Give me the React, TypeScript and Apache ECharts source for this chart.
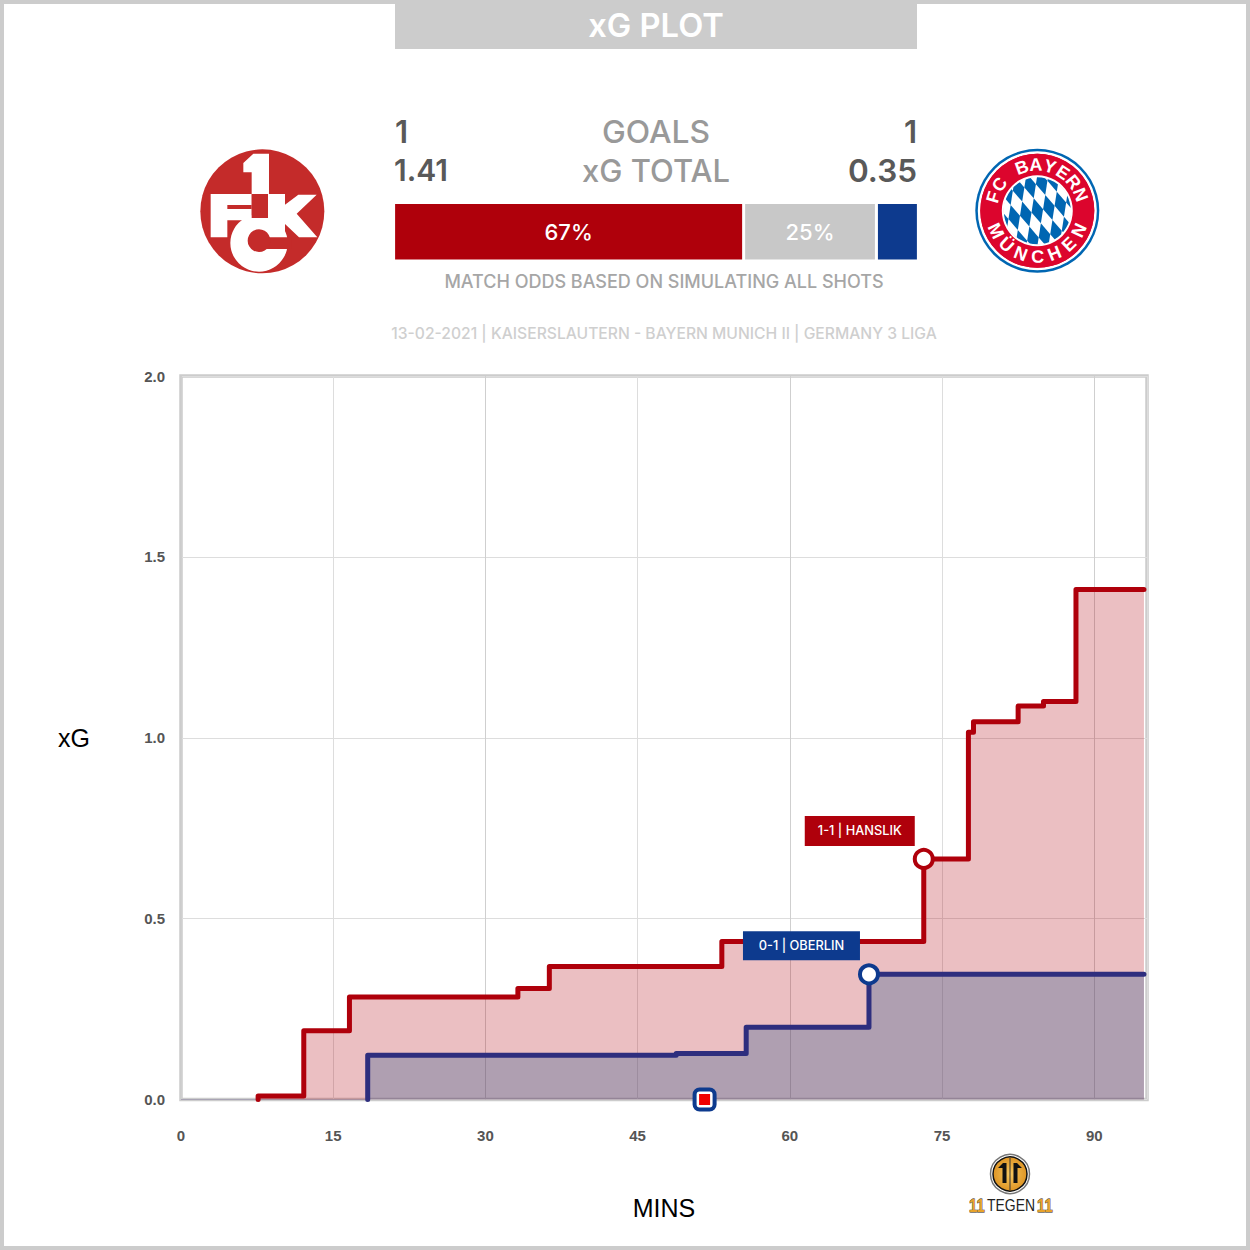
import React, { useEffect, useRef } from "react";
import * as echarts from "echarts";

const tickInterval = 15;
const redSteps = [[7.6,0],[7.6,0.01],[12.1,0.19],[16.6,0.283],[33.2,0.307],[36.3,0.368],[53.3,0.437],[73.2,0.665],[77.6,1.015],[78.1,1.044],[82.5,1.088],[85,1.10],[88.2,1.41],[94.9,1.41]];
const blueSteps = [[18.4,0],[18.4,0.122],[48.8,0.127],[55.7,0.2],[67.8,0.346],[94.9,0.346]];
const baseline = [[0,0],[18.4,0]];
const redGoal = [73.2, 0.665];
const blueGoal = [67.8, 0.346];
const redCard = [51.6, 0];
const odds = [66.7, 25.3, 8];
const oddsLabels = ["67%", "25%", ""];

const UI = "Inter, 'Open Sans', sans-serif";
const RED = "#AF000B";
const BLUE = "#0D3A8E";
const NAVY = "#2E2E7E";

function textEl(text: string, x: number, y: number, size: number, fill: string, align = "center", weight: any = 500, family = UI) {
  return { type: "text", x, y, z: 20, style: { text, fill, font: `${weight} ${size}px ${family}`, textAlign: align, textVerticalAlign: "middle" } };
}

function crestFck() {
  const k = 1 / 3, ox = 195, oy = 143;
  const C = "#C42B2A", W = "#fff";
  const P = (x: number, y: number) => [ox + x * k, oy + y * k];
  const rect = (x0: number, y0: number, x1: number, y1: number, fill: string, z = 13) => ({
    type: "rect", z,
    shape: { x: ox + x0 * k, y: oy + y0 * k, width: (x1 - x0) * k, height: (y1 - y0) * k },
    style: { fill },
  });
  const poly = (pts: number[][], fill: string, z = 12) => ({ type: "polygon", z, shape: { points: pts.map(([x, y]) => P(x, y)) }, style: { fill } });
  const circ = (x: number, y: number, r: number, fill: string, z: number) => ({ type: "circle", z, shape: { cx: ox + x * k, cy: oy + y * k, r: r * k }, style: { fill } });
  return [
    circ(202, 205, 186, C, 10),
    poly([[175, 32], [222, 32], [222, 153], [170, 153], [170, 88], [145, 88], [145, 60]], W),
    poly([[47, 153], [170, 153], [170, 232], [97, 232], [97, 283], [47, 283]], W),
    rect(170, 153, 270, 283, W, 12),
    poly([[270, 185], [310, 155], [365, 155], [305, 212], [367, 283], [312, 283], [270, 243]], W),
    circ(192, 300, 86, W, 12),
    rect(192, 283, 290, 318, C),
    circ(192, 293, 34, C, 13),
    rect(170, 153, 219, 225, C),
    rect(97, 186, 170, 198, C),
  ];
}

function crestBayern() {
  const cx = 1037.3, cy = 210.8;
  const els: any[] = [
    { type: "circle", z: 10, shape: { cx, cy, r: 62 }, style: { fill: "#0066B2" } },
    { type: "circle", z: 11, shape: { cx, cy, r: 59.5 }, style: { fill: "#fff" } },
    { type: "circle", z: 11, shape: { cx, cy, r: 57 }, style: { fill: "#DC052D" } },
    { type: "circle", z: 12, shape: { cx, cy, r: 35 }, style: { fill: "#fff" } },
  ];
  const W = 12, H = 26, t = (-16 * Math.PI) / 180;
  const rot = (x: number, y: number) => [cx + x * Math.cos(t) - y * Math.sin(t), cy + x * Math.sin(t) + y * Math.cos(t)];
  for (let i = -5; i <= 5; i++) {
    for (let j = -3; j <= 3; j++) {
      const dx = i * W, dy = j * H;
      if (Math.hypot(dx, dy) > 44) continue;
      els.push({
        type: "polygon", z: 13,
        shape: { points: [rot(dx, dy - H / 2), rot(dx + W / 2, dy), rot(dx, dy + H / 2), rot(dx - W / 2, dy)] },
        style: { fill: "#0066B2" },
      });
    }
  }
  els.push({ type: "ring", z: 14, shape: { cx, cy, r0: 34, r: 57 }, style: { fill: "#DC052D" } });
  els.push({ type: "ring", z: 14, shape: { cx, cy, r0: 33.5, r: 35.5 }, style: { fill: "#fff" } });
  const arcText = (s: string, start: number, step: number, radius: number, up: boolean) => {
    Array.from(s).forEach((ch, i) => {
      const deg = start + step * i;
      const a = (deg * Math.PI) / 180;
      els.push({
        type: "text", z: 15,
        x: cx + radius * Math.sin(a), y: cy - radius * Math.cos(a),
        rotation: up ? -a : Math.PI - a,
        style: { text: ch, fill: "#fff", font: "700 18px 'Liberation Sans', Arial", textAlign: "center", textVerticalAlign: "middle" },
      });
    });
  };
  arcText("FC BAYERN", -73, 17.8, 46, true);
  arcText("MÜNCHEN", 244, -21.5, 46, false);
  return els;
}

function logo11() {
  const cx = 1010, cy = 1174;
  const narrow = "'Liberation Sans', Arial";
  return [
    { type: "circle", z: 10, shape: { cx, cy, r: 19.5 }, style: { fill: "#fff", stroke: "#777", lineWidth: 1.5 } },
    { type: "circle", z: 11, shape: { cx, cy, r: 17 },
      style: { fill: new echarts.graphic.RadialGradient(0.5, 0.5, 0.6, [{ offset: 0, color: "#F7C860" }, { offset: 1, color: "#D98A18" }]), stroke: "#111", lineWidth: 1.5 } },
    { type: "polygon", z: 12, shape: { points: [[cx - 12, cy - 6], [cx - 7, cy - 11], [cx - 3.5, cy - 11], [cx - 3.5, cy + 9], [cx - 7.5, cy + 9], [cx - 7.5, cy - 6]] }, style: { fill: "#111" } },
    { type: "polygon", z: 12, shape: { points: [[cx + 12, cy - 6], [cx + 7, cy - 11], [cx + 3.5, cy - 11], [cx + 3.5, cy + 9], [cx + 7.5, cy + 9], [cx + 7.5, cy - 6]] }, style: { fill: "#111" } },
    { type: "rect", z: 12, shape: { x: cx - 0.5, y: cy - 16, width: 1, height: 32 }, style: { fill: "#333" } },
    { type: "text", z: 12, x: 969, y: 1205, scaleX: 0.82, style: { text: "11", fill: "#E8A32B", stroke: "#222", lineWidth: 0.8, font: `700 18px ${narrow}`, textVerticalAlign: "middle" } },
    { type: "text", z: 12, x: 987, y: 1205, scaleX: 0.82, style: { text: "TEGEN", fill: "#222", font: `400 17px ${narrow}`, textVerticalAlign: "middle" } },
    { type: "text", z: 12, x: 1037, y: 1205, scaleX: 0.82, style: { text: "11", fill: "#E8A32B", stroke: "#222", lineWidth: 0.8, font: `700 18px ${narrow}`, textVerticalAlign: "middle" } },
  ];
}

export default function App() {
  const ref = useRef<HTMLDivElement>(null);
  useEffect(() => {
    if (!ref.current) return;
    const chart = echarts.init(ref.current, undefined, { renderer: "svg" });
    const axisText = { color: "#555", fontWeight: "bold" as const, fontSize: 15, fontFamily: "'Liberation Sans', Arial" };
    const stepSeries = (name: string, data: number[][], color: string, area: string, z: number) => ({
      name, type: "line", data, step: "end", symbol: "none", z,
      lineStyle: { color, width: 5, join: "round" as const, cap: "round" as const },
      areaStyle: { color: area, opacity: 1 },
      clip: false,
    });
    const goal = (p: number[], color: string, text: string, w: number, h: number) => ({
      type: "scatter", data: [p], symbolSize: 18, z: 8, clip: false,
      itemStyle: { color: "#fff", borderColor: color, borderWidth: 4, opacity: 1 },
      label: {
        show: true, formatter: text, position: [-w / 2 + 2, -32], width: w, height: h, lineHeight: h,
        align: "center", verticalAlign: "top", backgroundColor: color, color: "#fff",
        fontFamily: UI, fontSize: 12.8, fontWeight: 500,
      },
    });
    chart.setOption({
      animation: false,
      backgroundColor: "#fff",
      grid: [
        { left: 181, top: 376, width: 966, height: 723.5, show: true, borderColor: "#CCCCCC", borderWidth: 3.5, backgroundColor: "transparent" },
        { left: 393.6, top: 202.5, width: 524.8, height: 58.5 },
      ],
      xAxis: [
        {
          type: "value", gridIndex: 0, min: 0, max: 95.2, interval: tickInterval,
          name: "MINS", nameLocation: "middle", nameGap: 96,
          nameTextStyle: { color: "#000", fontSize: 25, fontFamily: "'Liberation Sans', Arial" },
          axisLine: { show: false }, axisTick: { show: false },
          axisLabel: { ...axisText, margin: 28, showMaxLabel: false },
          splitLine: { show: true, lineStyle: { color: ["#CFCFCF", "#DDDDDD"], width: 1 } },
        },
        { type: "value", gridIndex: 1, min: 0, max: 100, show: false },
      ],
      yAxis: [
        {
          type: "value", gridIndex: 0, min: 0, max: 2, interval: 0.5,
          name: "xG", nameLocation: "middle", nameGap: 91, nameRotate: 0,
          nameTextStyle: { color: "#000", fontSize: 25, fontFamily: "'Liberation Sans', Arial" },
          axisLine: { show: false }, axisTick: { show: false },
          axisLabel: { ...axisText, margin: 16, formatter: (v: number) => v.toFixed(1) },
          splitLine: { show: true, lineStyle: { color: "#DDDDDD", width: 1 } },
        },
        { type: "category", gridIndex: 1, data: ["odds"], show: false },
      ],
      series: [
        { type: "line", data: baseline, symbol: "none", z: 2, clip: false, lineStyle: { color: "#A8A4B4", width: 1 } },
        stepSeries("Kaiserslautern", redSteps, RED, "rgba(176,0,11,0.25)", 3),
        stepSeries("Bayern Munich II", blueSteps, NAVY, "rgba(38,85,140,0.3)", 4),
        goal(redGoal, RED, "1-1 | HANSLIK", 110, 30),
        goal(blueGoal, BLUE, "0-1 | OBERLIN", 117, 29),
        { type: "scatter", data: [redCard], symbol: "roundRect", symbolSize: 20, z: 9, clip: false, itemStyle: { color: "#fff", borderColor: BLUE, borderWidth: 4, opacity: 1 } },
        { type: "scatter", data: [redCard], symbol: "rect", symbolSize: 11, z: 10, clip: false, itemStyle: { color: "#F00000", opacity: 1 } },
        ...odds.map((v, i) => ({
          type: "bar", xAxisIndex: 1, yAxisIndex: 1, stack: "odds", barWidth: "100%", data: [v],
          itemStyle: { color: [RED, "#C8C8C8", BLUE][i], borderColor: "#fff", borderWidth: 1.5 },
          label: { show: !!oddsLabels[i], position: "inside", formatter: oddsLabels[i], color: "#fff", fontFamily: UI, fontWeight: 500, fontSize: 22 },
        })),
      ],
      graphic: [
        { type: "rect", z: 30, silent: true, shape: { x: 2, y: 2, width: 1246, height: 1246 }, style: { fill: "none", stroke: "#CCCCCC", lineWidth: 4 } },
        { type: "rect", z: 19, shape: { x: 395, y: 4, width: 522, height: 45 }, style: { fill: "#CCCCCC" } },
        textEl("xG PLOT", 656, 25, 32.7, "#fff", "center", 600),
        textEl("1", 395, 131, 31, "#595959", "left", 600),
        textEl("GOALS", 656, 131, 31.8, "#999999"),
        textEl("1", 917, 131, 31, "#595959", "right", 600),
        textEl("1.41", 394, 170, 30, "#595959", "left", 600),
        textEl("xG TOTAL", 656, 170, 31, "#999999"),
        textEl("0.35", 917, 170, 31.5, "#595959", "right", 600),
        textEl("MATCH ODDS BASED ON SIMULATING ALL SHOTS", 664, 281, 18, "#A6A6A6"),
        textEl("13-02-2021 | KAISERSLAUTERN - BAYERN MUNICH II | GERMANY 3 LIGA", 664, 333, 15.66, "#CFCFCF"),
        ...crestFck(),
        ...crestBayern(),
        ...logo11(),
      ],
    });
    return () => chart.dispose();
  }, []);
  return <div ref={ref} style={{ position: "absolute", left: 0, top: 0, width: 1250, height: 1250 }} />;
}
